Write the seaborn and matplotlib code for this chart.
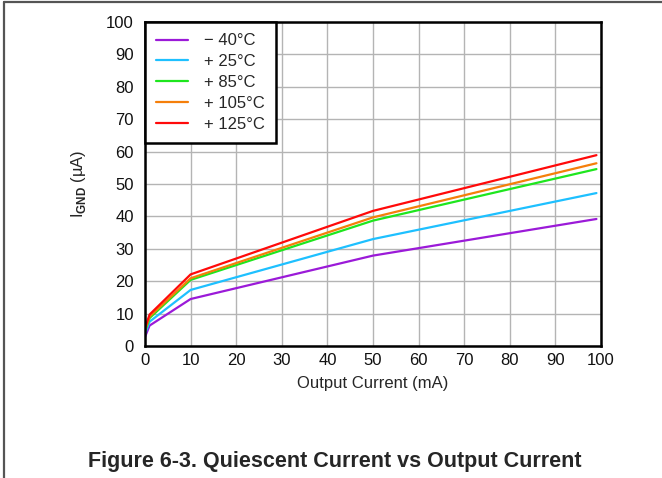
import numpy as np
import pandas as pd
import matplotlib.pyplot as plt
import seaborn as sns
from matplotlib.lines import Line2D

# output current (mA) and ground current (uA) per temperature
current = [0, 1, 10, 50, 99]
temps = ["\u2212 40\u00b0C", "+ 25\u00b0C", "+ 85\u00b0C", "+ 105\u00b0C", "+ 125\u00b0C"]
ignd_m40 = [2.8, 6.3, 14.5, 27.9, 39.2]
ignd_25 = [3.8, 7.5, 17.3, 33.0, 47.2]
ignd_85 = [4.5, 8.6, 20.4, 38.7, 54.6]
ignd_105 = [5.0, 9.1, 20.9, 39.7, 56.4]
ignd_125 = [5.5, 9.7, 22.1, 41.7, 58.9]

colors = ["#9b1ad8", "#1ec0ff", "#1ee61e", "#f57f0a", "#ff0a0a"]

rows = []
for t, vals in zip(temps, [ignd_m40, ignd_25, ignd_85, ignd_105, ignd_125]):
    for x, y in zip(current, vals):
        rows.append({"current": x, "ignd": y, "temp": t})
df = pd.DataFrame(rows)

sns.set_style("white")
plt.rcParams['font.family'] = ['Liberation Sans', 'DejaVu Sans']
plt.rcParams['mathtext.fontset'] = 'custom'
plt.rcParams['mathtext.rm'] = 'Liberation Sans'
plt.rcParams['mathtext.bf'] = 'Liberation Sans:bold'

fs = 12
fig = plt.figure(figsize=(6.62, 4.78), dpi=100)
ax = fig.add_axes([145/662, 1-346/478, 456/662, 324/478])

sns.lineplot(data=df, x="current", y="ignd", hue="temp", palette=colors,
             linewidth=1.6, ax=ax, legend=True)

ax.set_xlim(0, 100)
ax.set_ylim(0, 100)
ax.set_xticks(np.arange(0, 101, 10))
ax.set_yticks(np.arange(0, 101, 10))
ax.grid(True, color="#b4b4b4", linewidth=1.0)
ax.set_axisbelow(True)
for s in ax.spines.values():
    s.set_color("black")
    s.set_linewidth(1.8)
ax.tick_params(axis="both", length=0, labelsize=fs, colors="#111111")
ax.tick_params(axis="y", pad=8)
ax.tick_params(axis="x", pad=5)

ax.set_xlabel("Output Current (mA)", fontsize=fs, labelpad=6)
ax.set_ylabel(r"I$_\mathbf{GND}$ (µA)", fontsize=fs)
ax.yaxis.set_label_coords(-0.125, 0.5)

leg = ax.legend(loc="upper left", frameon=True, fancybox=False, fontsize=fs,
                borderaxespad=0, handlelength=1.9, handletextpad=0.95,
                labelspacing=0.35, borderpad=0.68, title=None)
leg.get_frame().set_edgecolor("black")
leg.get_frame().set_linewidth(1.8)
leg.get_frame().set_facecolor("white")
leg.get_frame().set_alpha(1)

fig.text(0.506, 0.034, "Figure 6-3. Quiescent Current vs Output Current",
         ha="center", va="center", fontsize=15.5, fontweight="bold")

# page frame lines
fig.add_artist(Line2D([3.5/662, 3.5/662], [0, 1-1.5/478], transform=fig.transFigure,
                      color="#555555", linewidth=1.6))
fig.add_artist(Line2D([3.5/662, 1], [1-1.5/478, 1-1.5/478], transform=fig.transFigure,
                      color="#555555", linewidth=1.6))

fig.savefig("out.png", dpi=100)
